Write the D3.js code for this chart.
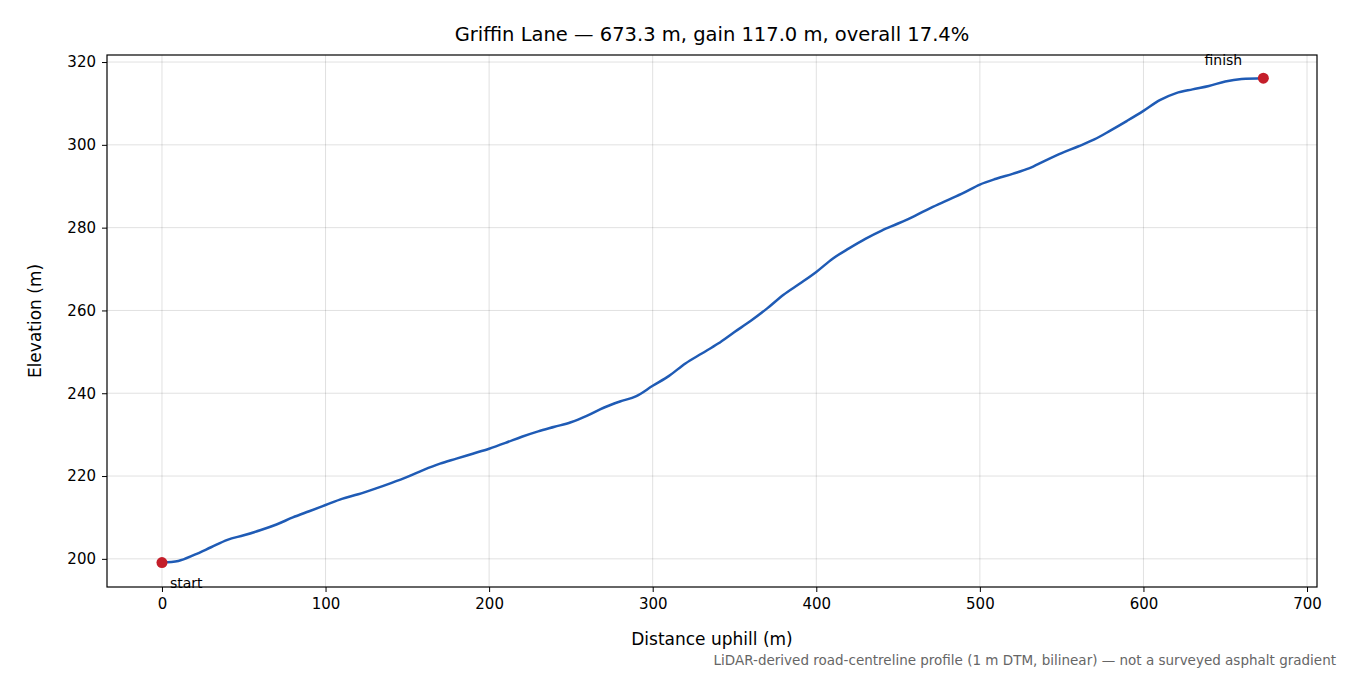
<!DOCTYPE html>
<html><head><meta charset="utf-8">
<script src="https://cdn.jsdelivr.net/npm/d3@7"></script>
<style>body{margin:0;background:#fff}text{font-family:"DejaVu Sans",sans-serif}</style>
</head><body><svg id="c" width="1350" height="675"></svg>
<script>
const distances=[0,10,20,30,40,50,60,70,80,90,100,110,120,130,140,150,160,170,180,190,200,210,220,230,240,250,260,270,280,290,300,310,320,330,340,350,360,370,380,390,400,410,420,430,440,450,460,470,480,490,500,510,520,530,540,550,560,570,580,590,600,610,620,630,640,650,660,673.3];
const elevations=[199.1,199.5,201,202.8,204.6,205.7,206.9,208.3,210,211.5,213,214.5,215.6,216.9,218.3,219.8,221.5,223,224.2,225.4,226.6,228,229.5,230.8,231.9,233,234.6,236.5,238,239.3,241.8,244.2,247.2,249.6,252,254.8,257.5,260.5,263.8,266.5,269.3,272.5,275,277.3,279.3,281,282.8,284.8,286.6,288.4,290.4,291.8,293,294.3,296.2,298,299.6,301.3,303.5,305.8,308.2,310.8,312.5,313.4,314.2,315.3,315.9,316.1];
const xTicks=[0,100,200,300,400,500,600,700];
const yTicks=[200,220,240,260,280,300,320];
const svg=d3.select("#c");
const L=107,R=1317,T=55,B=587;
const x=d3.scaleLinear().domain([-33.6,706.1]).range([L,R]);
const y=d3.scaleLinear().domain([193.2,321.7]).range([B,T]);
const g=svg.append("g");
g.selectAll(".gx").data(xTicks).enter().append("line").attr("x1",d=>x(d)).attr("x2",d=>x(d)).attr("y1",T).attr("y2",B).attr("stroke","#000").attr("stroke-opacity",0.12);
g.selectAll(".gy").data(yTicks).enter().append("line").attr("y1",d=>y(d)).attr("y2",d=>y(d)).attr("x1",L).attr("x2",R).attr("stroke","#000").attr("stroke-opacity",0.12);
const xa=svg.append("g").attr("transform",`translate(0,${B})`).call(d3.axisBottom(x).tickValues(xTicks).tickSize(5).tickPadding(6));
const ya=svg.append("g").attr("transform",`translate(${L},0)`).call(d3.axisLeft(y).tickValues(yTicks).tickSize(5).tickPadding(6));
[xa,ya].forEach(a=>{a.select(".domain").remove();a.selectAll("text").attr("font-size",15).attr("fill","#000");a.selectAll("line").attr("stroke","#000");});
svg.append("rect").attr("x",L).attr("y",T).attr("width",R-L).attr("height",B-T).attr("fill","none").attr("stroke","#000").attr("stroke-width",1.2);
const pts=distances.map((d,i)=>[d,elevations[i]]);
svg.append("path").datum(pts).attr("d",d3.line().x(d=>x(d[0])).y(d=>y(d[1])).curve(d3.curveMonotoneX)).attr("fill","none").attr("stroke","#1f5bb5").attr("stroke-width",2.5);
const ends=[pts[0],pts[pts.length-1]];
svg.selectAll(".dot").data(ends).enter().append("circle").attr("cx",d=>x(d[0])).attr("cy",d=>y(d[1])).attr("r",5.5).attr("fill","#c41e2a");
svg.append("text").attr("x",x(0)+8).attr("y",y(199.1)+25).attr("font-size",14).text("start");
svg.append("text").attr("x",x(673.3)-40).attr("y",y(316.1)-13).attr("text-anchor","middle").attr("font-size",14).text("finish");
svg.append("text").attr("x",712).attr("y",41).attr("text-anchor","middle").attr("font-size",19.5).text("Griffin Lane — 673.3 m, gain 117.0 m, overall 17.4%");
svg.append("text").attr("x",712).attr("y",645).attr("text-anchor","middle").attr("font-size",17).text("Distance uphill (m)");
svg.append("text").attr("transform","translate(41,321) rotate(-90)").attr("text-anchor","middle").attr("font-size",17).text("Elevation (m)");
svg.append("text").attr("x",1336).attr("y",665).attr("text-anchor","end").attr("font-size",13.5).attr("fill","#666").text("LiDAR-derived road-centreline profile (1 m DTM, bilinear) — not a surveyed asphalt gradient");
</script></body></html>
